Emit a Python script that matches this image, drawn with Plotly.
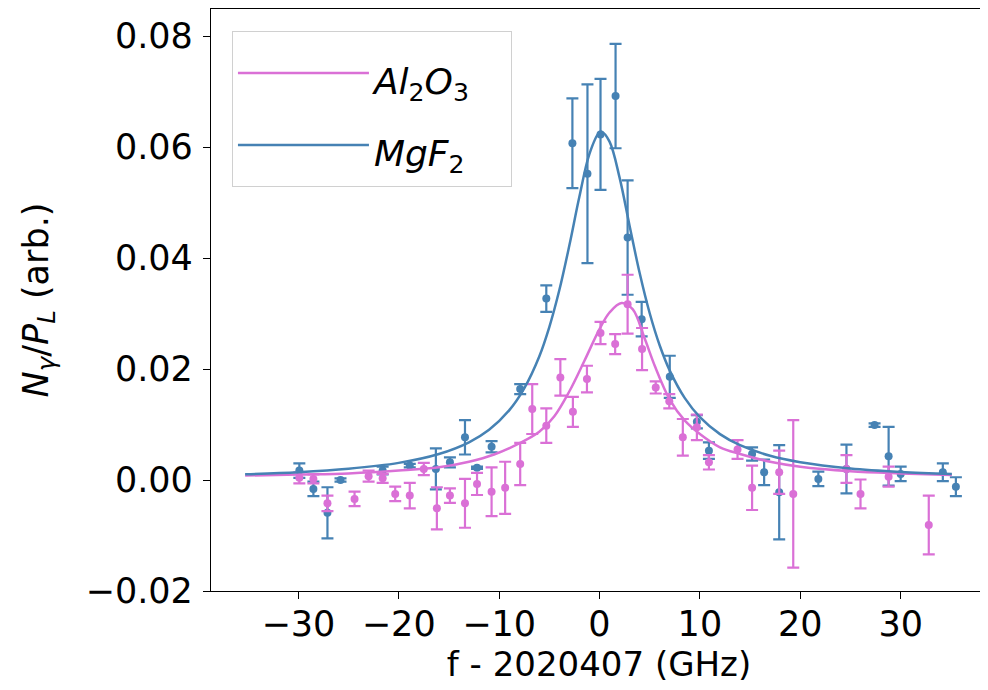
import plotly.graph_objects as go

# ---- data: MgF2 (blue) ----
mg_x = [-29.9, -28.5, -27.1, -25.8, -21.6, -18.9, -16.3, -14.9, -13.4, -12.2, -10.75, -7.9, -5.3,
        -2.7, -1.2, 0.1, 1.6, 2.8, 4.2, 7.0, 9.7, 10.9, 15.2, 16.4, 17.9, 21.8, 24.6, 27.4, 28.8,
        30.0, 34.2, 35.5]
mg_y = [0.0017, -0.0016, -0.0059, 0.0000, 0.0017, 0.0026, 0.0020, 0.0032, 0.0077, 0.0022, 0.0060,
        0.0164, 0.0327, 0.0607, 0.0552, 0.0623, 0.0692, 0.0437, 0.0290, 0.0186, 0.0105, 0.0053,
        0.0047, 0.0014, -0.0022, 0.0002, 0.0020, 0.0099, 0.0043, 0.0011, 0.0014, -0.0012]
mg_err = [0.0013, 0.0013, 0.0046, 0.0003, 0.0007, 0.0003, 0.0037, 0.0009, 0.0031, 0.0002, 0.0010,
          0.0009, 0.0024, 0.0081, 0.0161, 0.0100, 0.0094, 0.0103, 0.0031, 0.0038, 0.0012, 0.0015,
          0.0012, 0.0023, 0.0085, 0.0013, 0.0044, 0.0003, 0.0053, 0.0013, 0.0016, 0.0017]

# ---- data: Al2O3 (pink) ----
al_x = [-29.9, -28.5, -27.1, -24.4, -23.0, -21.6, -20.35, -18.9, -17.5, -16.2, -14.9, -13.4, -12.2,
        -10.75, -9.4, -7.9, -6.7, -5.3, -3.9, -2.65, -1.25, 0.1, 1.56, 2.8, 4.24, 5.6, 6.95, 8.3,
        9.7, 10.9, 13.75, 15.2, 17.9, 19.3, 24.6, 26.0, 28.8, 32.8]
al_y = [0.0004, 0.0002, -0.0042, -0.0034, 0.0007, 0.0003, -0.0025, -0.0028, 0.0020, -0.0051, -0.0028,
        -0.0042, -0.0007, -0.0021, -0.0014, 0.0029, 0.0128, 0.0098, 0.0185, 0.0123, 0.0182, 0.0265,
        0.0245, 0.0317, 0.0236, 0.0167, 0.0142, 0.0077, 0.0095, 0.0032, 0.0055, -0.0014, 0.0014,
        -0.0025, 0.0020, -0.0025, 0.0006, -0.0081]
al_err = [0.0010, 0.0008, 0.0014, 0.0013, 0.0010, 0.0008, 0.0013, 0.0023, 0.0011, 0.0038, 0.0013,
          0.0044, 0.0020, 0.0044, 0.0047, 0.0038, 0.0045, 0.0031, 0.0033, 0.0027, 0.0024, 0.0020,
          0.0018, 0.0053, 0.0038, 0.0011, 0.0013, 0.0033, 0.0023, 0.0013, 0.0017, 0.0040, 0.0039,
          0.0133, 0.0025, 0.0026, 0.0018, 0.0053]

# ---- fit curves ----
mg_fit_x = [-35.3, -30, -25, -20, -16, -13, -11, -9, -7.5, -6, -5, -4, -3, -2, -1, 0, 0.2, 1, 2, 3,
            4, 5, 6, 7, 8.5, 10, 12, 14, 17, 20, 25, 30, 35.1]
mg_fit_y = [0.00104, 0.00142, 0.00203, 0.00309, 0.00469, 0.0068, 0.00906, 0.01256, 0.01653, 0.02227,
            0.02757, 0.03424, 0.04232, 0.0511, 0.0588, 0.0627, 0.0628, 0.0610, 0.0545, 0.0458,
            0.0373, 0.03006, 0.02425, 0.01972, 0.01476, 0.01134, 0.00828, 0.00628, 0.00438,
            0.00322, 0.00209, 0.00146, 0.00107]
al_fit_x = [-35.3, -30, -25, -20, -16, -13, -10.5, -8, -6, -4.5, -3, -1.5, 0, 1, 2.2, 3.3, 4.5,
            5.5, 7, 8.5, 10, 12, 14, 17, 20, 25, 30, 35.1]
al_fit_y = [0.0008, 0.0010, 0.0012, 0.0017, 0.0023, 0.0033, 0.0046, 0.0066, 0.0087, 0.0115, 0.0160,
            0.0215, 0.0272, 0.0302, 0.0319, 0.0308, 0.0255, 0.0206, 0.0145, 0.0107, 0.0083, 0.0059,
            0.0047, 0.0033, 0.0024, 0.0016, 0.0012, 0.0009]

x_ticks = [-30, -20, -10, 0, 10, 20, 30]
y_ticks = [-0.02, 0.0, 0.02, 0.04, 0.06, 0.08]

PINK = "#DA70D6"
BLUE = "#4682B4"
FONT = "DejaVu Sans"
FS = 35

fig = go.Figure()

fig.add_trace(go.Scatter(
    x=mg_x, y=mg_y, mode="markers", showlegend=False,
    marker=dict(color=BLUE, size=8),
    error_y=dict(type="data", array=mg_err, color=BLUE, thickness=2.2, width=6)))
fig.add_trace(go.Scatter(
    x=al_x, y=al_y, mode="markers", showlegend=False,
    marker=dict(color=PINK, size=8),
    error_y=dict(type="data", array=al_err, color=PINK, thickness=2.2, width=6)))

fig.add_trace(go.Scatter(
    x=al_fit_x, y=al_fit_y, mode="lines",
    name='<span style="font-size:36px"><i>Al</i><sub>2</sub><i>O</i><sub>3</sub>&nbsp;&nbsp;&nbsp;</span>',
    line=dict(color=PINK, width=2.5, shape="spline", smoothing=1.0)))
fig.add_trace(go.Scatter(
    x=mg_fit_x, y=mg_fit_y, mode="lines",
    name='<span style="font-size:36px"><i>MgF</i><sub>2</sub></span>',
    line=dict(color=BLUE, width=2.5, shape="spline", smoothing=1.0)))

axis_common = dict(
    showline=True, linecolor="black", linewidth=1.3, mirror=True,
    ticks="outside", ticklen=7, tickwidth=1.3, tickcolor="black",
    showgrid=False, zeroline=False, automargin=False,
    tickfont=dict(family=FONT, size=FS, color="black"),
)

fig.update_xaxes(range=[-38.7, 38.6], tickmode="array", tickvals=x_ticks,
                 ticklabelstandoff=-5,
                 title=dict(text="f - 2020407 (GHz)", font=dict(family=FONT, size=34, color="black"),
                            standoff=0),
                 **axis_common)
fig.update_yaxes(range=[-0.02, 0.0849], tickmode="array", tickvals=y_ticks, tickformat=".2f",
                 ticklabelstandoff=3,
                 title=dict(text="<i>N</i><sub><i>γ</i></sub>/<i>P</i><sub><i>L</i></sub> (arb.)",
                            font=dict(family=FONT, size=FS, color="black"), standoff=26),
                 **axis_common)

# the page body has an 8px margin, so the figure is offset by 8px; margins compensate
fig.update_layout(
    width=988, height=690,
    margin=dict(l=203, r=9, t=1, b=107, autoexpand=False),
    plot_bgcolor="white", paper_bgcolor="white",
    font=dict(family=FONT, color="black"),
    legend=dict(
        x=0.027, y=0.962, xanchor="left", yanchor="top",
        bgcolor="rgba(255,255,255,0.8)", bordercolor="#d0d0d0", borderwidth=1,
        font=dict(family=FONT, size=53, color="black"),
        itemwidth=131, traceorder="normal",
    ),
)

fig.write_html("out.html")
